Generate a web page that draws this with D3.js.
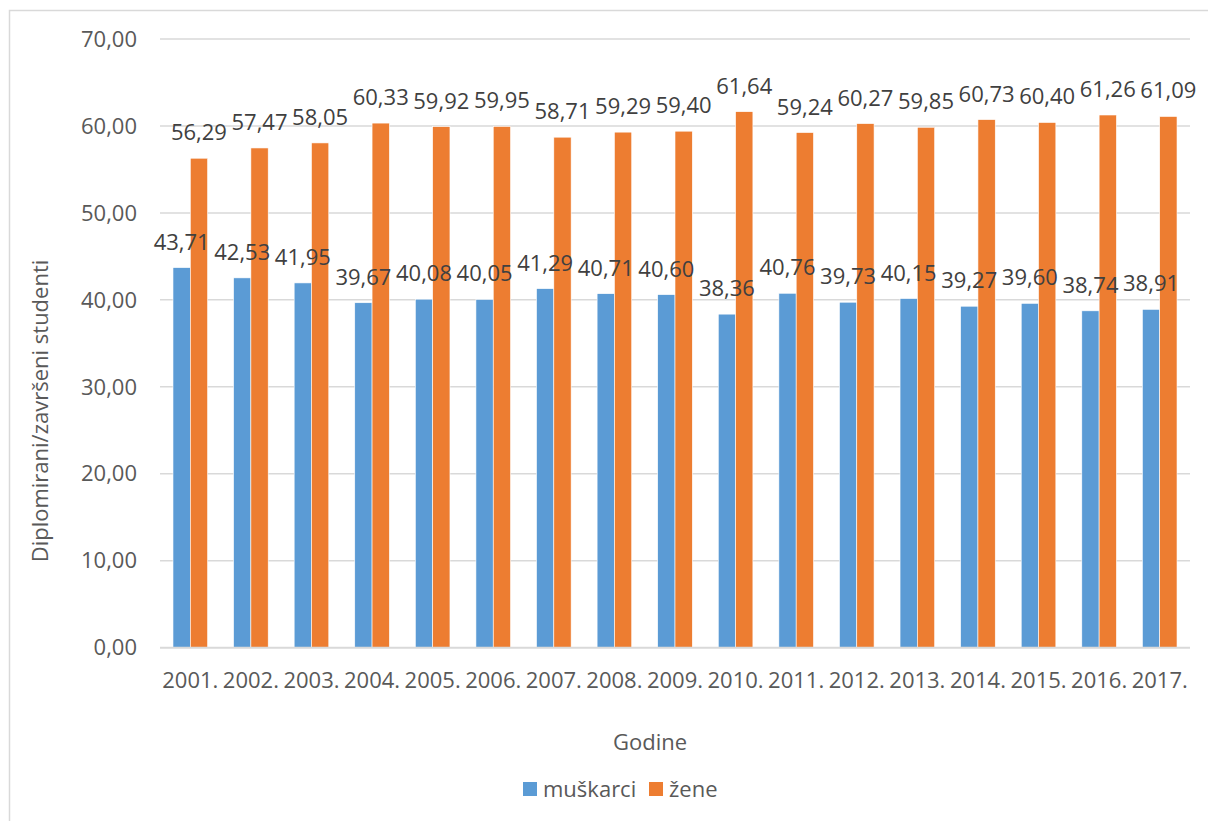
<!DOCTYPE html>
<html>
<head>
<meta charset="utf-8">
<script src="https://cdn.jsdelivr.net/npm/d3@7"></script>
<style>
  html, body { margin: 0; padding: 0; background: #fff; }
  svg { display: block; font-family: "Open Sans", "Noto Sans", sans-serif; }
</style>
</head>
<body>
<svg id="chart" width="1208" height="821"></svg>
<script>
const years = ["2001.","2002.","2003.","2004.","2005.","2006.","2007.","2008.","2009.","2010.","2011.","2012.","2013.","2014.","2015.","2016.","2017."];
const seriesNames = ["muškarci", "žene"];
const muskarci = [43.71,42.53,41.95,39.67,40.08,40.05,41.29,40.71,40.60,38.36,40.76,39.73,40.15,39.27,39.60,38.74,38.91];
const zene = [56.29,57.47,58.05,60.33,59.92,59.95,58.71,59.29,59.40,61.64,59.24,60.27,59.85,60.73,60.40,61.26,61.09];
const yTicks = [0,10,20,30,40,50,60,70];
const colors = ["#5B9BD5", "#ED7D31"];
const yTitle = "Diplomirani/završeni studenti";
const xTitle = "Godine";

(function () {
const svg = d3.select("#chart");
const fmt = v => d3.format(".2f")(v).replace(".", ",");
const FS = 22;

// outer chart border
svg.append("rect").attr("x", 9.5).attr("y", 10.5).attr("width", 1230).attr("height", 840)
  .attr("fill", "none").attr("stroke", "#d9d9d9").attr("stroke-width", 1.5);

const pLeft = 160, pRight = 1190, pTop = 39, pBottom = 647.7;
const x0 = d3.scaleBand().domain(years).range([pLeft, pRight]).padding(0);
const x1 = d3.scaleBand().domain(seriesNames).range([0, x0.bandwidth()]).paddingInner(0).paddingOuter(0.75);
const y = d3.scaleLinear().domain([0, 70]).range([pBottom, pTop]);

// gridlines
svg.append("g").selectAll("line").data(yTicks.filter(d => d > 0)).join("line")
  .attr("x1", pLeft).attr("x2", pRight)
  .attr("y1", d => y(d)).attr("y2", d => y(d))
  .attr("stroke", "#d9d9d9").attr("stroke-width", 1.5);

// y tick labels
svg.append("g").selectAll("text").data(yTicks).join("text")
  .attr("x", 137).attr("y", d => y(d)).attr("dy", "0.35em")
  .attr("text-anchor", "end").attr("font-size", FS).attr("fill", "#595959")
  .text(d => fmt(d));

const data = [muskarci, zene];
const groups = svg.append("g").selectAll("g").data(seriesNames).join("g")
  .attr("fill", (d, i) => colors[i]);

groups.each(function(name, si) {
  const g = d3.select(this);
  g.selectAll("rect").data(data[si]).join("rect")
    .attr("x", (d, i) => x0(years[i]) + x1(name))
    .attr("width", x1.bandwidth())
    .attr("y", d => y(d))
    .attr("height", d => y(0) - y(d))
    .attr("stroke", "#fff").attr("stroke-width", 0.6);
});

// baseline
svg.append("line").attr("x1", pLeft).attr("x2", pRight).attr("y1", y(0)).attr("y2", y(0))
  .attr("stroke", "#d9d9d9").attr("stroke-width", 2);

// data labels
seriesNames.forEach((name, si) => {
  svg.append("g").selectAll("text").data(data[si]).join("text")
    .attr("x", (d, i) => x0(years[i]) + x1(name) + x1.bandwidth() / 2)
    .attr("y", d => y(d) - 18)
    .attr("text-anchor", "middle").attr("font-size", FS).attr("fill", "#404040")
    .text(d => fmt(d));
});

// x tick labels
svg.append("g").selectAll("text").data(years).join("text")
  .attr("x", d => x0(d) + x0.bandwidth() / 2).attr("y", 680).attr("dy", "0.35em")
  .attr("text-anchor", "middle").attr("font-size", FS).attr("fill", "#595959")
  .text(d => d);

// axis titles
svg.append("text").attr("x", 650).attr("y", 742).attr("dy", "0.35em")
  .attr("text-anchor", "middle").attr("font-size", FS).attr("fill", "#595959").text(xTitle);
svg.append("text").attr("transform", "translate(40,411) rotate(-90)").attr("dy", "0.35em")
  .attr("text-anchor", "middle").attr("font-size", FS).attr("fill", "#595959").text(yTitle);

// legend
const legendItems = [{x: 523, tx: 543}, {x: 649, tx: 669}];
seriesNames.forEach((name, i) => {
  svg.append("rect").attr("x", legendItems[i].x).attr("y", 782).attr("width", 14).attr("height", 14)
    .attr("fill", colors[i]);
  svg.append("text").attr("x", legendItems[i].tx).attr("y", 789).attr("dy", "0.35em")
    .attr("font-size", FS).attr("fill", "#595959").text(name);
});
})();
</script>
</body>
</html>
